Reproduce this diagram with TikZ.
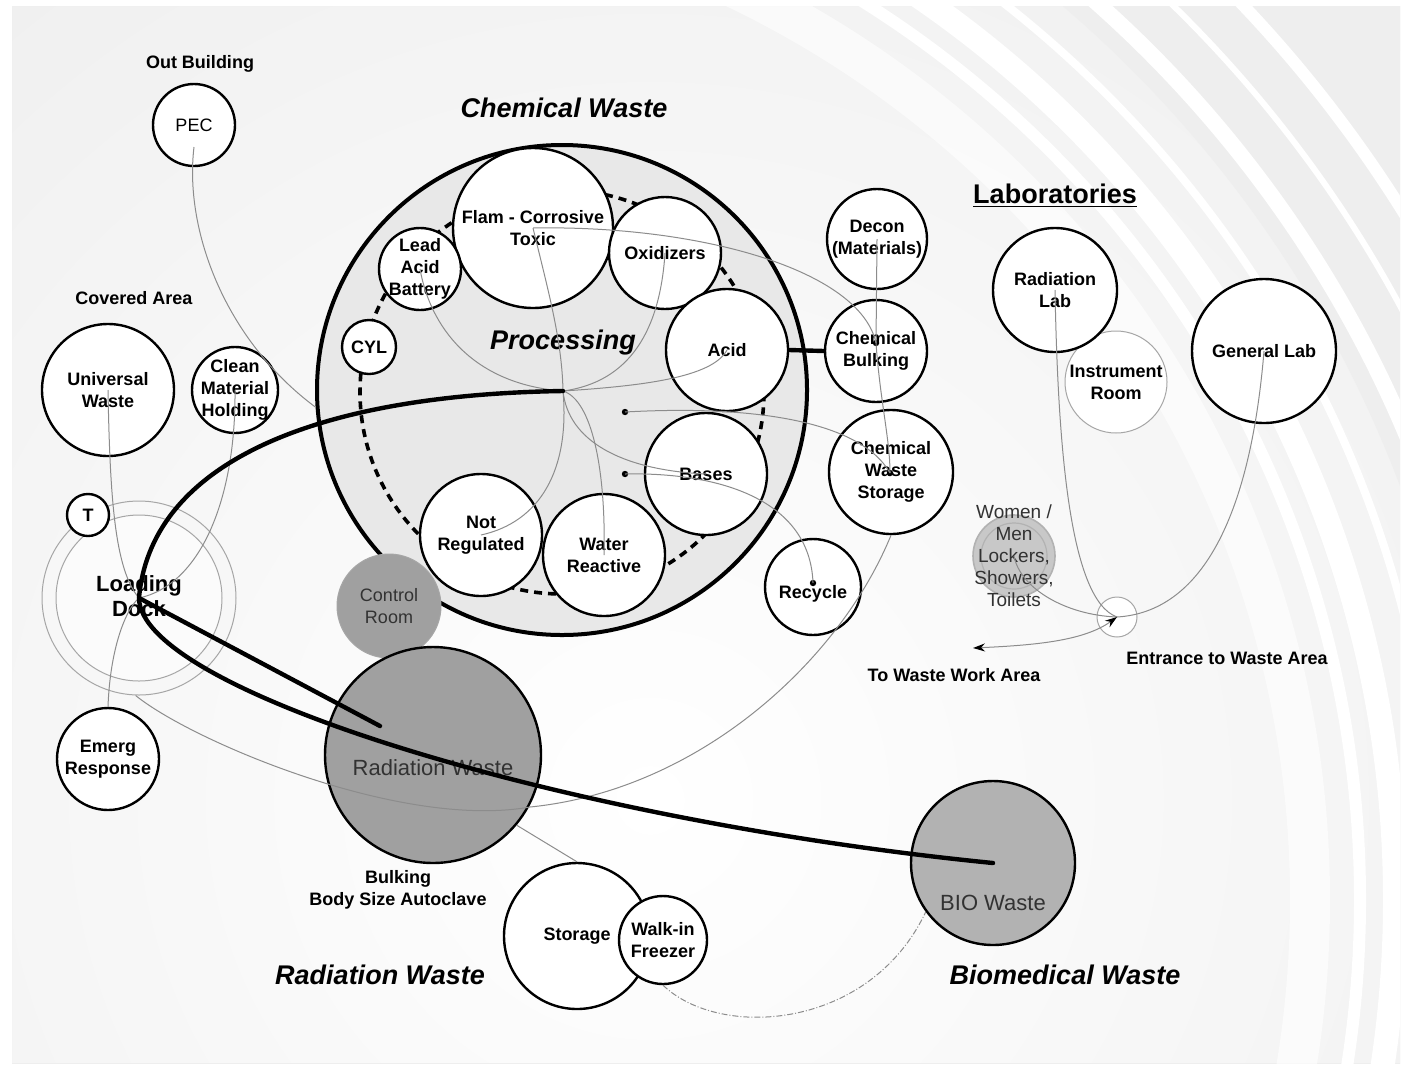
\documentclass[tikz,border=0pt]{standalone}
\usepackage{fontspec}
\setmainfont{Liberation Sans}
\usepackage{tikz}
\usetikzlibrary{arrows.meta,calc}

\definecolor{bgfill}{RGB}{236,236,236}
\definecolor{procfill}{RGB}{232,232,232}
\definecolor{radfill}{RGB}{160,160,160}
\definecolor{biofill}{RGB}{178,178,178}
\definecolor{lockfill}{RGB}{200,200,200}
\definecolor{linkgray}{RGB}{140,140,140}
\definecolor{softtext}{RGB}{50,50,50}

\begin{document}
\begin{tikzpicture}[
    x=0.5pt, y=-0.5pt,
    room/.style={circle, draw=black, line width=1.2pt, fill=white, inner sep=0pt, minimum size=#1pt},
    softroom/.style={circle, draw=gray!70, line width=0.5pt, fill=white, inner sep=0pt, minimum size=#1pt},
    greyroom/.style={circle, draw=black, line width=1.2pt, fill=radfill, inner sep=0pt, minimum size=#1pt},
    txt/.style={align=center, inner sep=0pt, font=\bfseries\fontsize{9}{11}\selectfont},
    thintxt/.style={align=center, inner sep=0pt, text=softtext, font=\fontsize{9}{11}\selectfont},
    heading/.style={inner sep=0pt, font=\bfseries\itshape\fontsize{13.5}{16}\selectfont},
    spot/.style={circle, fill=black, inner sep=0pt, minimum size=3.2pt},
    link/.style={draw=linkgray, line width=0.5pt},
    flow/.style={draw=black, line width=2.2pt, line cap=round, line join=round},
]
    % Background
    \useasboundingbox (0,0) rectangle (1406,1071);
    \fill[white] (0,0) rectangle (1406,1071);
    \begin{scope}
        \clip (12,6) rectangle (1400,1063);
        \fill[bgfill] (12,6) rectangle (1400,1063);
        \shade[inner color=white, outer color=bgfill] (650,800) circle (1300);
        \fill[gray!13, even odd rule] (12,6) rectangle (1400,1063) (300,900) circle (1175);
        \draw[white, line width=20pt, opacity=0.6] (300,900) circle (1010);
        \foreach \r/\w in {1060/6, 1095/12, 1140/4, 1200/8, 1250/3, 1300/6}
            \draw[white, line width=\w pt] (300,900) circle (\r);
    \end{scope}

    % Chemical waste
    \node[heading] (chemtitle) at (564,108) {Chemical Waste};
    \node[circle, draw=black, line width=2pt, fill=procfill, inner sep=0pt, minimum size=245pt] (proc) at (562,390) {};
    \node[circle, draw=black, line width=1.8pt, dash pattern=on 4pt off 3pt, inner sep=0pt, minimum size=202pt] (ring) at (562,392) {};
    \node[heading] (processing) at (563,343) {Processing};
    \node[room=80, label={[txt]center:Flam - Corrosive\\Toxic}] (flam) at (533,228) {};
    \node[room=41, label={[txt]center:Lead\\Acid\\Battery}] (lead) at (420,269) {};
    \node[room=56, label={[txt]center:Oxidizers}] (oxid) at (665,253) {};
    \node[room=61, label={[txt]center:Acid}] (acid) at (727,350) {};
    \node[room=27, label={[txt]center:CYL}] (cyl) at (369,347) {};
    \node[room=61, label={[txt]center:Bases}] (bases) at (706,474) {};
    \node[room=61, label={[txt]center:Not\\Regulated}] (notreg) at (481,535) {};
    \node[room=61, label={[txt]center:Water\\Reactive}] (water) at (604,555) {};
    \node[room=50, label={[txt]center:Decon\\(Materials)}] (decon) at (877,239) {};
    \node[room=51, label={[txt]center:Chemical\\Bulking}] (bulk) at (876,351) {};
    \node[room=62, label={[txt]center:Chemical\\Waste\\Storage}] (cws) at (891,472) {};
    \node[room=48] (recycle) at (813,587) {};
    \node[txt] (recycletxt) at (813,594) {Recycle};

    % Laboratories
    \node[inner sep=0pt, font=\bfseries\fontsize{13.5}{16}\selectfont] (labtitle) at (1055,196) {\underline{Laboratories}};
    \node[softroom=51, label={[txt]center:Instrument\\Room}] (instr) at (1116,382) {};
    \node[room=62, label={[txt]center:Radiation\\Lab}] (radlab) at (1055,290) {};
    \node[room=72, label={[txt]center:General Lab}] (genlab) at (1264,351) {};
    \node[circle, draw=gray!60, fill=lockfill, line width=0.8pt, inner sep=0pt, minimum size=41pt] (lockers) at (1014,556) {};
    \node[circle, draw=gray!60, line width=0.6pt, inner sep=0pt, minimum size=33pt] (lockin) at (1014,556) {};
    \node[thintxt, font=\fontsize{9.5}{11}\selectfont] (lockertxt) at (1014,556) {Women /\\Men\\Lockers,\\Showers,\\Toilets};
    \node[softroom=20] (entr) at (1117,617) {};
    \node[txt] (entrtxt) at (1227,658) {Entrance to Waste Area};
    \node[txt] (worktxt) at (954,675) {To Waste Work Area};
    \coordinate (towork) at (973,648);

    % Covered area and loading dock
    \node[txt] (outbld) at (200,64) {Out Building};
    \node[room=41, label={[thintxt, text=black]center:PEC}] (pec) at (194,125) {};
    \node[txt] (covered) at (134,298) {Covered Area};
    \node[room=66, label={[txt]center:Universal\\Waste}] (univ) at (108,390) {};
    \node[room=43, label={[txt]center:Clean\\Material\\Holding}] (clean) at (235,390) {};
    \node[softroom=97, fill=white!60!bgfill] (dock) at (139,598) {};
    \node[softroom=83, fill=white!80!bgfill] (dockin) at (139,598) {};
    \node[room=21, label={[txt]center:T}] (tnode) at (88,515) {};
    \node[txt, font=\bfseries\fontsize{11}{12.5}\selectfont] (docktxt) at (139,596) {Loading\\Dock};
    \node[room=51, label={[txt]center:Emerg\\Response}] (emerg) at (108,759) {};

    % Radiation and biomedical waste
    \node[circle, draw=gray!70, line width=0.5pt, fill=radfill, inner sep=0pt, minimum size=52pt, label={[thintxt]center:Control\\Room}] (control) at (389,606) {};
    \node[greyroom=108] (radwaste) at (433,755) {};
    \node[inner sep=0pt, text=softtext, font=\fontsize{11}{13}\selectfont] (radtxt) at (433,768) {Radiation Waste};
    \node[txt] (bulking) at (398,890) {Bulking\\Body Size Autoclave};
    \node[room=73, label={[txt]center:Storage}] (storage) at (577,936) {};
    \node[room=44, label={[txt]center:Walk-in\\Freezer}] (freezer) at (663,940) {};
    \node[heading] (radtitle) at (380,975) {Radiation Waste};
    \node[greyroom=82, fill=biofill] (bio) at (993,863) {};
    \node[inner sep=0pt, text=softtext, font=\fontsize{11}{13}\selectfont] (biotxt) at (993,903) {BIO Waste};
    \node[heading] (biotitle) at (1065,975) {Biomedical Waste};

    % Junctions
    \coordinate (hub) at (563,391);
    \coordinate (radend) at (380,726);
    \node[spot] (dotA) at (625,412) {};
    \node[spot] (dotB) at (625,474) {};
    \node[spot] (bulkdot) at (876,343) {};
    \node[spot] (cwsdot) at (890,473) {};
    \node[spot] (recdot) at (813,583) {};

    % Thin links
    \draw[link] ([yshift=-11pt]pec.center) .. controls (184,230) and (225,340) .. (proc.184);
    \draw[link] (flam.center) .. controls (548,290) and (562,340) .. (hub);
    \draw[link] (flam.center) .. controls (700,225) and (860,270) .. (bulkdot.center);
    \draw[link] (lead.center) .. controls (432,335) and (480,385) .. (hub);
    \draw[link] (oxid.center) .. controls (660,330) and (630,382) .. (hub);
    \draw[link] (acid.center) .. controls (712,378) and (640,386) .. (hub);
    \draw[link] (hub) .. controls (570,470) and (540,522) .. (notreg.center);
    \draw[link] (hub) .. controls (592,400) and (606,470) .. (water.center);
    \draw[link] (hub) .. controls (568,440) and (620,470) .. (bases.center);
    \draw[link] (dotA.center) .. controls (750,405) and (860,420) .. (cwsdot.center);
    \draw[link] (dotB.center) .. controls (720,472) and (810,500) .. (recdot.center);
    \draw[link] (decon.center) -- (bulkdot.center) .. controls (880,400) and (890,440) .. (cwsdot.center);
    \draw[link] (cws.south) .. controls (840,660) and (700,790) .. (530,807) .. controls (400,830) and (190,740) .. (dock.-92);
    \draw[link] (radwaste.-40) -- (storage.north);
    \draw[link, dash pattern=on 3pt off 1pt on 0.5pt off 1pt] (freezer.south) .. controls (720,1040) and (870,1030) .. (bio.216);
    \draw[link] (univ.center) .. controls (110,500) and (115,570) .. (dock.center);
    \draw[link] (clean.center) .. controls (236,500) and (200,585) .. (dock.center);
    \draw[link] (emerg.north) .. controls (110,650) and (125,610) .. (dock.center);
    \draw[link] (lockin.center) .. controls (1020,588) and (1065,615) .. (entr.center);
    \draw[link] (radlab.center) .. controls (1058,450) and (1070,600) .. (entr.center);
    \draw[link] (genlab.center) .. controls (1250,520) and (1200,612) .. (entr.center);
    \draw[link, {Stealth[black, length=6pt, width=4pt]}-{Stealth[black, length=6pt, width=4pt]}] (towork) .. controls (1040,645) and (1085,640) .. (entr.center);

    % Thick routes
    \draw[flow] (acid.east) -- (bulk.west);
    \draw[flow] (hub) .. controls (300,395) and (150,470) .. (dock.center) -- (radend);
    \draw[flow] (dock.center) .. controls (140,690) and (560,820) .. (bio.center);
\end{tikzpicture}
\end{document}
